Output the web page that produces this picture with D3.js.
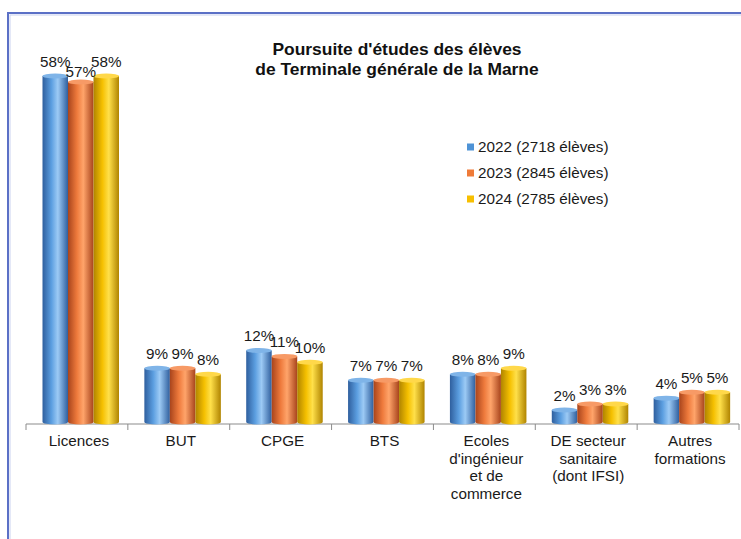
<!DOCTYPE html>
<html><head><meta charset="utf-8">
<script src="https://cdn.jsdelivr.net/npm/d3@7"></script>
<style>body{margin:0;background:#fff}svg{display:block;font-family:"Liberation Sans",Arial,sans-serif}</style>
</head><body><svg id="c" width="741" height="539"></svg>
<script>
const categories = [["Licences"],["BUT"],["CPGE"],["BTS"],["Ecoles","d'ingénieur","et de","commerce"],["DE secteur","sanitaire","(dont IFSI)"],["Autres","formations"]];
const seriesNames = ["2022 (2718 élèves)","2023 (2845 élèves)","2024 (2785 élèves)"];
const v2022 = [58,9,12,7,8,2,4];
const v2023 = [57,9,11,7,8,3,5];
const v2024 = [58,8,10,7,9,3,5];
const series = [v2022, v2023, v2024];
const titleLines = ["Poursuite d'études des élèves","de Terminale générale de la Marne"];

const svg = d3.select("#c");
const SX = 1.09;
function txt(parent, x, y, s, opts) {
  opts = opts || {};
  const g = parent.append("g").attr("transform", `translate(${x},${y}) scale(${SX},1)`);
  const t = g.append("text").attr("x",0).attr("y",0)
    .attr("text-anchor", opts.anchor || "middle")
    .attr("font-size", opts.size || 14)
    .attr("font-weight", opts.weight || "normal")
    .attr("fill", opts.fill || "#1a1a1a").text(s);
  return t;
}
const pal = [
  {dark:"#2f5f9e", mid:"#5b9ee0", light:"#9ccaf5", leg:"#4f93d6", top:"#7fb4e8"},
  {dark:"#a8441c", mid:"#ee7a3c", light:"#ffa46a", leg:"#ef7b38", top:"#f79a66"},
  {dark:"#b08400", mid:"#f5c000", light:"#ffe04a", leg:"#f7bf00", top:"#ffd84a"}
];
const defs = svg.append("defs");
pal.forEach((p,i)=>{
  const g = defs.append("linearGradient").attr("id","g"+i).attr("x1","0").attr("x2","1").attr("y1","0").attr("y2","0");
  g.append("stop").attr("offset","0%").attr("stop-color",p.dark);
  g.append("stop").attr("offset","35%").attr("stop-color",p.mid);
  g.append("stop").attr("offset","60%").attr("stop-color",p.light);
  g.append("stop").attr("offset","100%").attr("stop-color",p.dark);
});

// frame
svg.append("rect").attr("x",8).attr("y",13).attr("width",760).attr("height",560)
  .attr("fill","none").attr("stroke","#5b70c6").attr("stroke-width",2);
svg.append("rect").attr("x",10).attr("y",15).attr("width",760).attr("height",560)
  .attr("fill","none").attr("stroke","#c9d2f0").attr("stroke-width",1);

const x0 = d3.scaleBand().domain(d3.range(categories.length)).range([26,739]).paddingInner(0).paddingOuter(0);
const x1 = d3.scaleBand().domain([0,1,2]).range([0,76.5]);
const y = d3.scaleLinear().domain([0,58]).range([422,76]);
const shift = 16.5;

// axis
const axisY = 424;
svg.append("line").attr("x1",26).attr("x2",739).attr("y1",axisY).attr("y2",axisY).attr("stroke","#8c8c8c").attr("stroke-width",1.2);
const ticks = d3.range(categories.length+1).map(i=> i<categories.length ? x0(i) : x0(categories.length-1)+x0.bandwidth());
svg.selectAll(".tk").data(ticks).enter().append("line")
  .attr("x1",d=>d).attr("x2",d=>d).attr("y1",axisY).attr("y2",axisY+6).attr("stroke","#8c8c8c");

// bars
const ry = 2.5;
series.forEach((vals,s)=>{
  const g = svg.append("g");
  vals.forEach((v,i)=>{
    const bx = x0(i)+shift+x1(s);
    const bw = x1.bandwidth();
    const top = y(v);
    g.append("path")
      .attr("d",`M${bx},${top} L${bx},${y(0)} A${bw/2},${ry} 0 0 0 ${bx+bw},${y(0)} L${bx+bw},${top} Z`)
      .attr("fill",`url(#g${s})`);
    g.append("ellipse").attr("cx",bx+bw/2).attr("cy",top).attr("rx",bw/2).attr("ry",ry)
      .attr("fill",pal[s].top);
  });
});
series.forEach((vals,s)=>{
  vals.forEach((v,i)=>{
    const bx = x0(i)+shift+x1(s);
    const bw = x1.bandwidth();
    const dy = (i===0 && s===1) ? 5 : 9;
    txt(svg, bx+bw/2, y(v)-dy, v+"%", {size:14});
  });
});

// category labels
categories.forEach((lines,i)=>{
  lines.forEach((l,k)=>{
    txt(svg, x0(i)+x0.bandwidth()/2+2, 446+k*17.7, l, {size:14});
  });
});

// title
titleLines.forEach((l,k)=> txt(svg, 397, 55+k*19.5, l, {size:16, weight:"bold", fill:"#111"}));

// legend
seriesNames.forEach((n,i)=>{
  const yy = 147+i*26;
  svg.append("rect").attr("x",467).attr("y",yy-3.5).attr("width",7).attr("height",7).attr("fill",pal[i].leg);
  txt(svg, 478, yy+5, n, {size:14, anchor:"start"});
});
</script></body></html>
